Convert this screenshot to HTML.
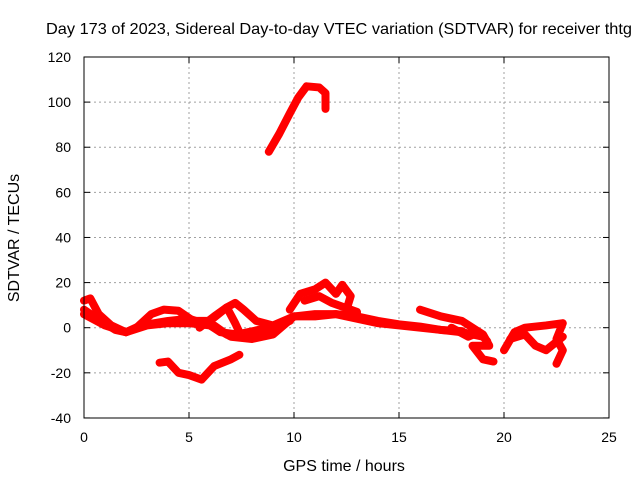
<!DOCTYPE html>
<html><head><meta charset="utf-8"><style>
body{margin:0;background:#fff}
svg text{font-family:"Liberation Sans",sans-serif;font-size:14px;fill:#000}
svg text.big{font-size:16px}
</style></head><body>
<svg id="chart" width="640" height="480">
<text class="big" x="46" y="34" textLength="586" lengthAdjust="spacingAndGlyphs">Day 173 of 2023, Sidereal Day-to-day VTEC variation (SDTVAR) for receiver thtg</text>
<g id="grid"></g>
<g id="ticks"></g>
<g id="series"></g>
<rect x="84" y="57" width="525" height="361" fill="none" stroke="#000" stroke-width="1"/>
<text class="big" x="344" y="471" text-anchor="middle">GPS time / hours</text>
<text class="big" x="0" y="0" text-anchor="middle" transform="translate(19,238) rotate(-90)">SDTVAR / TECUs</text>
</svg>
<script>
const xTicks=[0,5,10,15,20,25];
const yTicks=[-40,-20,0,20,40,60,80,100,120];
const trackArc=[[8.8,78],[9.3,86],[9.8,95],[10.2,102],[10.6,107],[11.2,106.5],[11.5,104],[11.5,97]];
const trackLow=[[3.6,-15.5],[4.0,-15],[4.5,-20],[5.0,-21],[5.6,-23],[6.2,-17],[7.0,-14],[7.4,-12]];
const trackMainA=[[0,12],[0.3,13],[0.7,6],[1.3,1],[2,-2],[2.5,0],[3.2,6],[3.8,8],[4.5,7.5],[5.2,3],[6,3],[6.8,9],[7.2,11],[7.6,8],[8.2,3],[9,1],[10,5],[11,5],[12,6],[13,4],[14,2],[15,1],[16,0],[17,-1],[18,-2],[19,-4]];
const trackMainB=[[0,8],[0.8,3],[1.5,-1],[2,-2],[3,1],[4,2],[5,2],[6,1],[7,-4],[8,-5],[9,-3],[10,5],[11,6],[12,6],[13,5],[14,3],[15,1.5],[16,0.5],[17,-1],[18,-1.5]];
const trackMainC=[[0,6],[1,1],[2,-2],[2.7,1],[4,3],[5,4],[6,1],[6.5,-2],[7.3,-3],[8.3,-1],[9,0],[9.8,3]];
const trackLoop7=[[5.5,0],[6.2,5],[6.8,9],[7.2,2],[7.5,-4],[6.8,-3],[6.2,1]];
const trackPeak12=[[9.8,8],[10.3,15],[11,17],[11.5,20],[12,15],[12.3,19],[12.7,14],[12.5,8],[13,6]];
const trackPeak12b=[[10.5,12],[11.2,14],[11.8,11],[12.4,9],[13,7]];
const trackLate=[[16,8],[17,5],[18,3],[18.5,0],[19,-3],[19.3,-8],[18.5,-8],[19,-14],[19.5,-15]];
const trackLateB=[[17.5,0],[18.3,-4],[18.8,-2],[19.2,-6]];
const trackEnd=[[20,-10],[20.5,-2],[21,0],[22,1],[22.8,2],[22.5,-5],[22.8,-10],[22.5,-16]];
const trackEndB=[[20.3,-5],[21,-3],[21.5,-8],[22,-10],[22.8,-4]];
const tracks=[trackArc,trackLow,trackMainA,trackMainB,trackMainC,trackLoop7,trackPeak12,trackPeak12b,trackLate,trackLateB,trackEnd,trackEndB];
const X=h=>84+h*21;
const Y=v=>327.7-v*2.256;
const NS='http://www.w3.org/2000/svg';
const grid=document.getElementById('grid'),ticks=document.getElementById('ticks'),ser=document.getElementById('series');
function mk(tag,attrs,parent){const e=document.createElementNS(NS,tag);for(const k in attrs)e.setAttribute(k,attrs[k]);parent.appendChild(e);return e;}
xTicks.forEach(t=>{
 if(t>0&&t<25){const l=mk('line',{x1:X(t),x2:X(t),y1:57,y2:418,stroke:'#a0a0a0','stroke-dasharray':'2,3'},grid);
 
 }
 mk('line',{x1:X(t),x2:X(t),y1:418,y2:412,stroke:'#000'},ticks);
 mk('line',{x1:X(t),x2:X(t),y1:57,y2:63,stroke:'#000'},ticks);
 const tx=mk('text',{x:X(t),y:442,'text-anchor':'middle'},ticks);tx.textContent=t;
 
 
});
yTicks.forEach(t=>{
 if(t>-40&&t<120){const l=mk('line',{x1:84,x2:609,y1:Y(t),y2:Y(t),stroke:'#a0a0a0','stroke-dasharray':'2,3'},grid);
 
 }
 mk('line',{x1:84,x2:90,y1:Y(t),y2:Y(t),stroke:'#000'},ticks);
 mk('line',{x1:609,x2:603,y1:Y(t),y2:Y(t),stroke:'#000'},ticks);
 const tx=mk('text',{x:71,y:Y(t)+5,'text-anchor':'end'},ticks);tx.textContent=t;
 
 
});
tracks.forEach(tr=>{
 const p=mk('polyline',{points:tr.map(d=>X(d[0])+','+Y(d[1])).join(' '),fill:'none',stroke:'#ff0000','stroke-width':8,'stroke-linejoin':'round','stroke-linecap':'round'},ser);
 
 
});
</script>
</body></html>
